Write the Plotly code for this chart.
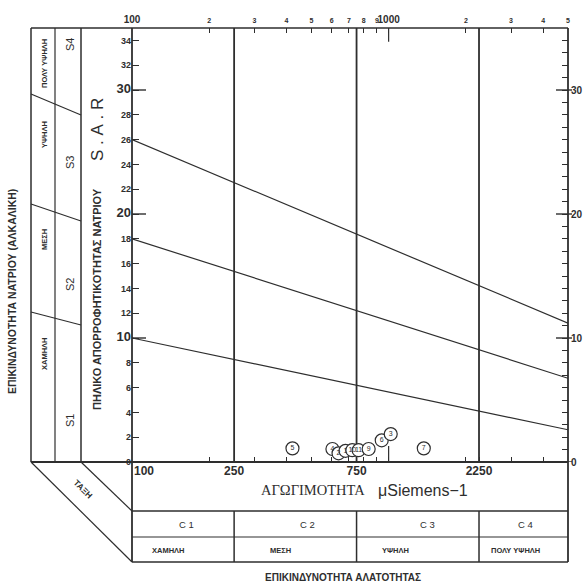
import math
import plotly.graph_objects as go

W, H = 585, 583

# ---------------- data ----------------
ec_points = [422, 604, 638, 679, 722, 764, 836, 940, 1019, 1371]
sar_points = [1.1, 1.05, 0.7, 0.9, 0.95, 0.95, 1.05, 1.75, 2.25, 1.1]
point_labels = ["5", "4", "2", "1", "10", "11", "9", "6", "3", "7"]

boundary_ec = [100, 5000]
s1_s2 = [10, 2.6]
s2_s3 = [18, 6.75]
s3_s4 = [26, 11.2]

class_ec = [250, 750, 2250]
ec_range = [100, 5000]
sar_range = [0, 35]

bottom_tickvals = [200, 250, 300, 400, 500, 600, 700, 750, 800, 900, 1000, 2000, 2250, 3000, 4000]
bottom_ticktext = ["", "250", "", "", "", "", "", "750", "", "", "", "", "2250", "", ""]
origin_tickvals = [100]
origin_ticktext = ["100"]
top_tickvals = [100, 200, 300, 400, 500, 600, 700, 800, 900, 1000, 2000, 3000, 4000, 5000]
top_ticktext = ["100", "2", "3", "4", "5", "6", "7", "8", "9", "1000", "2", "3", "4", "5"]
left_tickvals = list(range(0, 35, 2))
right_tickvals = list(range(0, 36, 1))
right_labels = [0, 10, 20, 30]

sal_classes = ["C 1", "C 2", "C 3", "C 4"]
sal_desc = ["ΧΑΜΗΛΗ", "ΜΕΣΗ", "ΥΨΗΛΗ", "ΠΟΛΥ ΥΨΗΛΗ"]
sod_classes = ["S 1", "S 2", "S 3", "S 4"]
sod_desc = ["ΧΑΜΗΛΗ", "ΜΕΣΗ", "ΥΨΗΛΗ", "ΠΟΛΥ ΥΨΗΛΗ"]

# ---------------- helpers (window pixels -> paper) ----------------
def X(p):
    return p / W

def Y(p):
    return 1 - p / H

INK = "#2e2e2e"
FONT = "Liberation Sans"
SERIF = "Liberation Serif"

fig = go.Figure()

# class boundary vertical lines in plot
for e in class_ec:
    fig.add_trace(go.Scatter(x=[e, e], y=sar_range, mode="lines",
                             line=dict(color=INK, width=1.8),
                             hoverinfo="skip", showlegend=False))

# SAR boundary lines
for yy in (s1_s2, s2_s3, s3_s4):
    fig.add_trace(go.Scatter(x=boundary_ec, y=yy, mode="lines",
                             line=dict(color=INK, width=1.2),
                             hoverinfo="skip", showlegend=False))

# longer 1000 ticks top & bottom
fig.add_trace(go.Scatter(x=[1000, 1000, None, 1000, 1000], y=[35, 33.9, None, 0, 1.3],
                         mode="lines", line=dict(color=INK, width=1.2),
                         hoverinfo="skip", showlegend=False))

# sample points
fig.add_trace(go.Scatter(x=ec_points, y=sar_points, mode="markers+text",
                         text=point_labels, textposition="middle center",
                         textfont=dict(family=FONT, size=7, color=INK),
                         marker=dict(size=13, color="white",
                                     line=dict(color=INK, width=1.2)),
                         cliponaxis=False, hoverinfo="skip", showlegend=False))

# invisible traces to activate secondary axes
for xa, ya in (("x2", "y"), ("x", "y2"), ("x4", "y")):
    fig.add_trace(go.Scatter(x=ec_range, y=[0, 0], xaxis=xa, yaxis=ya, mode="lines",
                             line=dict(width=0), opacity=0, hoverinfo="skip", showlegend=False))

# row dividers below plot (x3/y3)
xs, ys = [], []
for e in class_ec:
    xs += [e, e, None]
    ys += [0, 1, None]
fig.add_trace(go.Scatter(x=xs, y=ys, xaxis="x3", yaxis="y3", mode="lines",
                         line=dict(color=INK, width=1.5),
                         hoverinfo="skip", showlegend=False))

lr = [math.log10(ec_range[0]), math.log10(ec_range[1])]
xdom = [X(132), X(568)]
ydom = [Y(462), Y(28)]

left_text = []
for v in left_tickvals:
    if v in (10, 20, 30):
        left_text.append(f"<b><span style='font-size:13px'>{v}</span></b>")
    else:
        left_text.append(f"<b>{v}</b>")
right_text = [f"<b>{v}</b>" if v in right_labels else "" for v in right_tickvals]
top_text = []
for t in top_ticktext:
    if t in ("100", "1000"):
        top_text.append(f"<b><span style='font-size:10px'>{t}</span></b>")
    else:
        top_text.append(f"<b>{t}</b>")
bottom_text = [f"<b>{t}</b>" if t else "" for t in bottom_ticktext]

fig.update_layout(
    width=W, height=H, autosize=False,
    margin=dict(l=0, r=0, t=0, b=0, pad=0),
    paper_bgcolor="white", plot_bgcolor="white",
    font=dict(family=FONT, color=INK),
    showlegend=False,
    xaxis=dict(type="log", range=lr, domain=xdom, anchor="y", automargin=False,
               tickmode="array", tickvals=bottom_tickvals, ticktext=bottom_text,
               ticks="inside", ticklen=5, tickwidth=1.2, tickcolor=INK, tickangle=0,
               tickfont=dict(family=FONT, size=12, color=INK),
               showgrid=False, zeroline=False, showline=False),
    xaxis4=dict(type="log", range=lr, domain=xdom, anchor="y", overlaying="x", side="bottom",
                automargin=False,
                tickmode="array", tickvals=origin_tickvals,
                ticktext=[f"<b>{t}</b>" for t in origin_ticktext],
                ticks="", tickangle=0, ticklabelshift=12,
                tickfont=dict(family=FONT, size=12, color=INK),
                showgrid=False, zeroline=False, showline=False),
    xaxis2=dict(type="log", range=lr, domain=xdom, anchor="y", overlaying="x", side="top",
                automargin=False,
                tickmode="array", tickvals=top_tickvals, ticktext=top_text,
                ticks="inside", ticklen=5, tickwidth=1.2, tickcolor=INK, tickangle=0,
                tickfont=dict(family=FONT, size=7, color=INK), ticklabelstandoff=3,
                showgrid=False, zeroline=False, showline=False),
    xaxis3=dict(type="log", range=lr, domain=xdom, anchor="y3", visible=False, automargin=False),
    yaxis=dict(range=sar_range, domain=ydom, anchor="x", automargin=False,
               tickmode="array", tickvals=left_tickvals, ticktext=left_text,
               ticks="inside", ticklen=7, tickwidth=1.2, tickcolor=INK,
               tickfont=dict(family=FONT, size=9, color=INK),
               showgrid=False, zeroline=False, showline=False),
    yaxis2=dict(range=sar_range, domain=ydom, anchor="x", overlaying="y", side="right",
                automargin=False,
                tickmode="array", tickvals=right_tickvals, ticktext=right_text,
                ticks="inside", ticklen=6, tickwidth=1.2, tickcolor=INK,
                tickfont=dict(family=FONT, size=10, color=INK), ticklabelstandoff=2,
                showgrid=False, zeroline=False, showline=False),
    yaxis3=dict(range=[0, 1], domain=[Y(562), Y(511)], anchor="x3", visible=False, automargin=False),
)

shapes = []
def seg(x0, y0, x1, y1, w=1.5):
    shapes.append(dict(type="line", xref="paper", yref="paper",
                       x0=X(x0), y0=Y(y0), x1=X(x1), y1=Y(y1),
                       line=dict(color=INK, width=w)))

# frame
seg(31, 28, 568, 28)
seg(31, 28, 31, 462)
seg(55, 28, 55, 462, 1.2)
seg(81, 28, 81, 462)
seg(132, 28, 132, 562, 1.8)
seg(568, 28, 568, 562, 1.8)
seg(31, 462, 568, 462, 1.8)
seg(132, 511, 568, 511)
seg(132, 537, 568, 537, 1.2)
seg(132, 562, 568, 562)
seg(31, 462, 132, 562, 1.2)
seg(81, 462, 132, 511, 1.2)
# left panel class separators
seg(31, 94, 81, 115, 1.2)
seg(31, 204, 81, 221, 1.2)
seg(31, 312, 81, 325, 1.2)

# long ticks at 10/20/30 (left) and 0/10/20/30 (right)
for v in (10, 20, 30):
    shapes.append(dict(type="line", xref="paper", yref="y", x0=X(132), x1=X(146),
                       y0=v, y1=v, line=dict(color=INK, width=1.4)))
for v in right_labels:
    shapes.append(dict(type="line", xref="paper", yref="y", x0=X(556), x1=X(572),
                       y0=v, y1=v, line=dict(color=INK, width=1.4)))
fig.update_layout(shapes=shapes)

ann = []
def txt(x, y, s, size=8, angle=0, family=FONT, bold=True, xanchor="center"):
    ann.append(dict(xref="paper", yref="paper", x=X(x), y=Y(y),
                    text=(f"<b>{s}</b>" if bold else s), showarrow=False,
                    textangle=angle, xanchor=xanchor, yanchor="middle",
                    font=dict(family=family, size=size, color=INK)))

# left panel texts
sod_desc_y = [354, 240, 135, 64]
sod_cls_y = [421, 285, 163, 45]
for d, c, yd, yc in zip(sod_desc, sod_classes, sod_desc_y, sod_cls_y):
    txt(44, yd, d, size=7.5, angle=-90)
    txt(70, yc, c.replace(" ", ""), size=11, angle=-90, bold=False)

txt(98, 129, "S\u00a0.\u00a0A\u00a0.\u00a0R", size=17, angle=-90, bold=False)
txt(97, 299, "ΠΗΛΙΚΟ ΑΠΟΡΡΟΦΗΤΙΚΟΤΗΤΑΣ ΝΑΤΡΙΟΥ", size=11, angle=-90)
txt(12, 292, "ΕΠΙΚΙΝΔΥΝΟΤΗΤΑ ΝΑΤΡΙΟΥ (ΑΛΚΑΛΙΚΗ)", size=10.5, angle=-90)
txt(83, 489, "ΤΑΞΗ", size=8.5, angle=45)

# x title
txt(313, 490, "ΑΓΩΓΙΜΟΤΗΤΑ", size=14.5, family=SERIF, bold=False)
txt(423, 490, "μSiemens−1", size=16, bold=False)

# salinity rows
c_x = [187, 307, 427, 525]
d_x = [168, 280, 395, 515]
for c, d, cx, dx in zip(sal_classes, sal_desc, c_x, d_x):
    txt(cx, 524, c, size=9.5, bold=False)
    txt(dx, 550, d, size=7.5)

txt(343, 577, "ΕΠΙΚΙΝΔΥΝΟΤΗΤΑ ΑΛΑΤΟΤΗΤΑΣ", size=10)

fig.update_layout(annotations=ann)

# remove the default page margin so the figure fills the window exactly
fig.write_html("out.html", config={"displayModeBar": False},
               post_script="document.body.style.margin='0';document.body.style.overflow='hidden';")
